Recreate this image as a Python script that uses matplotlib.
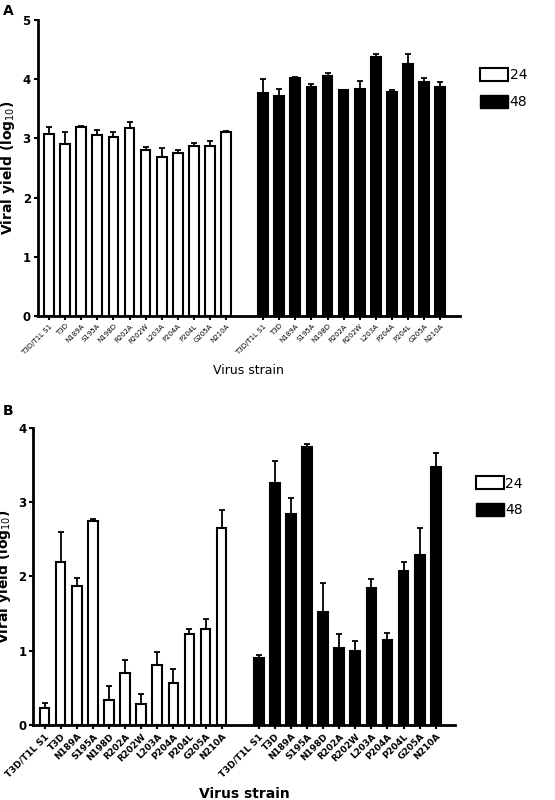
import numpy as np
import matplotlib.pyplot as plt
from matplotlib.patches import Patch

strains = ['T3D/T1L S1', 'T3D', 'N189A', 'S195A', 'N198D', 'R202A', 'R202W',
           'L203A', 'P204A', 'P204L', 'G205A', 'N210A']

# Panel A
a24 = [3.08, 2.90, 3.20, 3.06, 3.02, 3.17, 2.80, 2.69, 2.76, 2.87, 2.87, 3.10]
a24_err = [0.12, 0.20, 0.01, 0.08, 0.08, 0.10, 0.05, 0.15, 0.05, 0.05, 0.08, 0.02]
a48 = [3.77, 3.71, 4.02, 3.87, 4.05, 3.81, 3.83, 4.37, 3.78, 4.26, 3.95, 3.87]
a48_err = [0.23, 0.12, 0.01, 0.05, 0.06, 0.01, 0.14, 0.05, 0.04, 0.17, 0.07, 0.09]

# Panel B
b24 = [0.23, 2.19, 1.87, 2.74, 0.34, 0.70, 0.28, 0.81, 0.56, 1.22, 1.29, 2.65]
b24_err = [0.07, 0.41, 0.11, 0.04, 0.18, 0.18, 0.14, 0.17, 0.19, 0.07, 0.13, 0.24]
b48 = [0.90, 3.26, 2.84, 3.75, 1.52, 1.04, 0.99, 1.85, 1.14, 2.07, 2.29, 3.48]
b48_err = [0.04, 0.29, 0.22, 0.04, 0.39, 0.18, 0.14, 0.12, 0.10, 0.13, 0.36, 0.18]

x24 = np.arange(12)
x48 = np.arange(12) + 13.3
labels = strains + strains

fig = plt.figure(figsize=(5.55, 8), dpi=100)


def panel(ax, v24, e24, v48, e48, ymax, tickfs, tickbold, xlabfs):
    ax.bar(x24, v24, width=0.6, color='white', edgecolor='black', linewidth=1.5)
    ax.errorbar(x24, v24, yerr=[np.zeros(12), e24], fmt='none', ecolor='black',
                elinewidth=1.3, capsize=2.5, capthick=1.3)
    ax.bar(x48, v48, width=0.6, color='black', edgecolor='black', linewidth=1.5)
    ax.errorbar(x48, v48, yerr=[np.zeros(12), e48], fmt='none', ecolor='black',
                elinewidth=1.3, capsize=2.5, capthick=1.3)
    ax.set_xlim(-0.7, 25.5)
    ax.set_ylim(0, ymax)
    ax.set_yticks(range(ymax + 1))
    ax.set_xticks(np.concatenate([x24, x48]))
    ax.set_xticklabels(labels, rotation=45, ha='right', rotation_mode='anchor',
                       fontsize=tickfs, fontweight='bold' if tickbold else 'normal')
    for s in ['top', 'right']:
        ax.spines[s].set_visible(False)
    for s in ['left', 'bottom']:
        ax.spines[s].set_linewidth(2)
    ax.tick_params(axis='y', width=1.5, length=3, labelsize=8.5, pad=2)
    ax.tick_params(axis='x', width=1.5, length=3, pad=2)
    for t in ax.get_yticklabels():
        t.set_fontweight('bold')
    ax.set_ylabel('Viral yield (log$_{10}$)', fontsize=10, fontweight='bold', labelpad=4)
    ax.set_xlabel('Virus strain', fontsize=xlabfs,
                  fontweight='bold' if tickbold else 'normal', labelpad=6)
    ax.legend(handles=[Patch(facecolor='white', edgecolor='black', linewidth=1.5, label='24'),
                       Patch(facecolor='black', edgecolor='black', label='48')],
              loc='upper left', bbox_to_anchor=(1.02, 0.88), frameon=False,
              fontsize=10, handlelength=2.0, handleheight=1.1, handletextpad=0.1,
              labelspacing=0.9)


axA = fig.add_axes([0.068, 0.605, 0.76, 0.37])
panel(axA, a24, a24_err, a48, a48_err, 5, 5, False, 9)
axB = fig.add_axes([0.06, 0.094, 0.76, 0.371])
panel(axB, b24, b24_err, b48, b48_err, 4, 6.5, True, 10)

fig.text(0.005, 0.995, 'A', fontsize=10, fontweight='bold', va='top')
fig.text(0.005, 0.495, 'B', fontsize=10, fontweight='bold', va='top')

fig.savefig('out.png', dpi=100)
